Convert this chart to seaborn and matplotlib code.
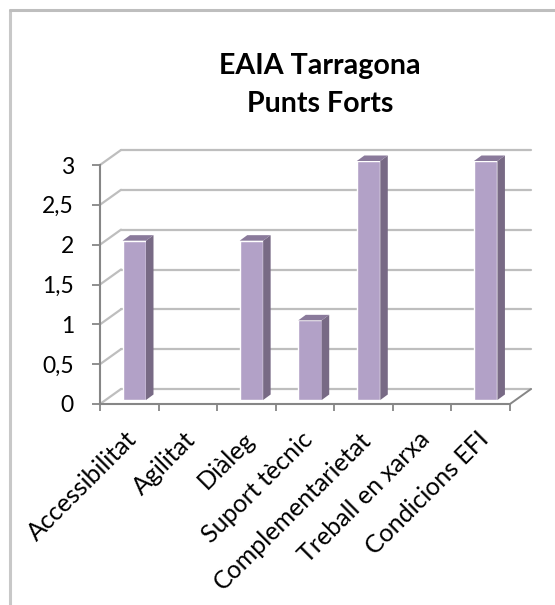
import matplotlib
matplotlib.use("Agg")
import matplotlib.pyplot as plt
import matplotlib.transforms as mtrans
from matplotlib.lines import Line2D
from matplotlib.patches import Polygon
import pandas as pd
import seaborn as sns

categories = ['Accessibilitat', 'Agilitat', 'Diàleg', 'Suport tècnic',
              'Complementarietat', 'Treball en xarxa', 'Condicions EFI']
values = [2, 0, 2, 1, 3, 0, 3]
y_ticks = [0, 0.5, 1, 1.5, 2, 2.5, 3]
y_labels = ['0', '0,5', '1', '1,5', '2', '2,5', '3']
title = 'EAIA Tarragona\nPunts Forts'

W, H = 555, 605
grid_col = '#BEBEBE'
axis_col = '#868686'
face_col = '#B2A1C7'
side_col = '#786A85'
top_col = '#8A7A9B'

sns.set_style('white')
plt.rcParams['font.family'] = ['Lato', 'DejaVu Sans']

fig = plt.figure(figsize=(W / 100, H / 100), dpi=100)
ax = fig.add_axes([100 / W, (H - 404) / H, 410 / W, 239 / H])

df = pd.DataFrame({'cat': categories, 'val': values})
sns.barplot(data=df, x='cat', y='val', color=face_col, saturation=1, width=0.4, ax=ax, zorder=3)
ax.set_ylim(0, 3)
ax.set_xlim(-0.5, 6.5)
ax.set_xlabel('')
ax.set_ylabel('')

# px offsets at dpi 100
def px(dx, dy):
    return mtrans.ScaledTranslation(dx / 100, dy / 100, fig.dpi_scale_trans)

# back wall and floor
back = ax.transData + px(21, 15)
for t in y_ticks:
    ax.plot([-0.5, 6.5], [t, t], transform=back, color=grid_col, lw=1.6, clip_on=False, zorder=1)
    a = ax.transData.transform((-0.5, t))
    ax.add_artist(Line2D([a[0], a[0] + 21], [a[1], a[1] + 15], transform=None, color=grid_col,
                         lw=1.6, zorder=1, clip_on=False))
a = ax.transData.transform((6.5, 0))
ax.add_artist(Line2D([a[0], a[0] + 21], [a[1], a[1] + 15], transform=None, color=axis_col,
                     lw=1.4, zorder=1, clip_on=False))

# fake 3d bars
bar_shift = px(5, 4)
for p in ax.patches:
    h = p.get_height()
    if h == 0:
        p.set_visible(False)
        continue
    p.set_transform(ax.transData + bar_shift)
    p.set_clip_on(False)
    x0, x1 = p.get_x(), p.get_x() + p.get_width()
    tr = (ax.transData + bar_shift)
    bl = tr.transform((x1, 0))
    tl = tr.transform((x1, h))
    tf = tr.transform((x0, h))
    side = [tuple(bl), tuple(tl), (tl[0] + 7.5, tl[1] + 5.5), (bl[0] + 7.5, bl[1] + 5.5)]
    top = [tuple(tf), tuple(tl), (tl[0] + 7.5, tl[1] + 5.5), (tf[0] + 7.5, tf[1] + 5.5)]
    ax.add_artist(Polygon(side, closed=True, transform=None, fc=side_col, ec='none', zorder=3, clip_on=False))
    ax.add_artist(Polygon(top, closed=True, transform=None, fc=top_col, ec='none', zorder=3, clip_on=False))

# axes
for s in ['top', 'right']:
    ax.spines[s].set_visible(False)
for s in ['left', 'bottom']:
    ax.spines[s].set_color(axis_col)
    ax.spines[s].set_linewidth(1.5)
    ax.spines[s].set_zorder(4)

ax.set_yticks(y_ticks)
ax.set_yticklabels(y_labels, fontsize=16.5, color='black')
ax.tick_params(axis='y', length=5.8, width=1.3, color=axis_col, pad=13, left=True)

n = len(categories)
ax.set_xticks([i - 0.5 for i in range(n + 1)])
ax.set_xticklabels([])
ax.set_xticks(list(range(n)), minor=True)
ax.set_xticklabels(categories, minor=True, rotation=45, ha='right', va='top',
                   rotation_mode='anchor', fontsize=18, color='black')
ax.tick_params(axis='x', which='major', length=5, width=1.3, color=axis_col, bottom=True)
ax.tick_params(axis='x', which='minor', length=0, pad=17)
for lab in ax.get_xticklabels(minor=True):
    lab.set_transform(lab.get_transform() + px(-4, 0))

fig.text(320 / W, 1 - 85 / H, title, ha='center', va='center', fontsize=20.6,
         fontweight='bold', color='black', linespacing=1.55)

# chart border, runs off the picture on the right and bottom
fig.add_artist(Line2D([10 / W, 10 / W], [0, 1 - 10 / H], color='#C8C8C8', lw=2.2))
fig.add_artist(Line2D([10 / W, 1], [1 - 10 / H, 1 - 10 / H], color='#BEBEBE', lw=2.2))

fig.savefig('out.png', dpi=100)
